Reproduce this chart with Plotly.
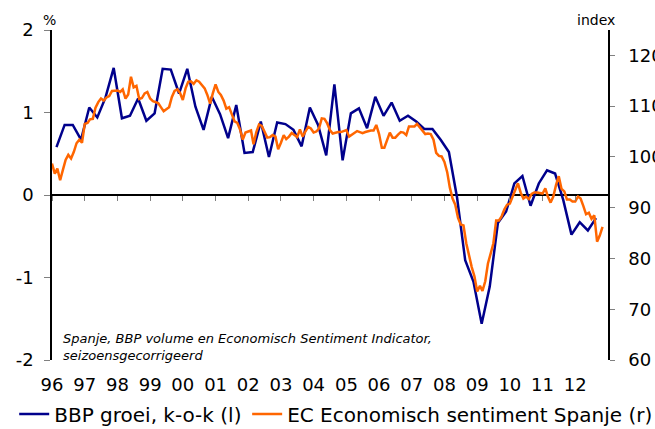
import pandas as pd
import plotly.graph_objects as go

FONT = "DejaVu Sans"
BLUE = "#00008C"
ORANGE = "#FF6600"
TICK_GREY = "#808080"

# BBP groei, kwartaal-op-kwartaal (%), 1996Q1 - 2012Q3
bbp_growth = [
    0.58, 0.85, 0.85, 0.67,
    1.06, 0.94, 1.18, 1.54,
    0.93, 0.96, 1.17, 0.90,
    0.99, 1.53, 1.52, 1.23,
    1.53, 1.07, 0.79, 1.19,
    0.98, 0.69, 1.09, 0.51,
    0.52, 0.89, 0.46, 0.88,
    0.86, 0.79, 0.59, 1.06,
    0.85, 0.48, 1.34, 0.42,
    0.99, 1.05, 0.81, 1.19,
    0.96, 1.12, 0.90, 0.96,
    0.89, 0.80, 0.80, 0.67,
    0.52, -0.03, -0.79, -1.05,
    -1.56, -1.11, -0.34, -0.20,
    0.14, 0.23, -0.13, 0.14,
    0.30, 0.26, -0.06, -0.48,
    -0.33, -0.43, -0.28,
]

# EC Economisch sentiment Spanje (index), maandelijks vanaf jan 1996
esi_spain = [
    98.7, 96.7, 97.7, 95.4, 97.4, 99.4, 100.4, 99.7, 101.0, 102.7, 103.4, 102.8,
    106.5, 106.7, 107.4, 107.5, 109.7, 110.8, 111.5, 111.1, 111.7, 112.0, 113.0, 113.1,
    113.1, 112.8, 113.3, 111.5, 112.3, 115.8, 113.7, 114.0, 111.4, 111.6, 112.5, 112.8,
    111.5, 111.0, 110.8, 110.6, 109.8, 109.0, 109.4, 109.8, 111.8, 113.0, 113.3, 112.6,
    111.2, 113.5, 114.8, 114.9, 114.4, 115.1, 114.8, 114.2, 113.5, 112.2, 110.5, 112.5,
    114.3, 112.8, 112.2, 111.1, 109.5, 109.8, 108.3, 107.0, 106.7, 105.4, 103.4, 104.8,
    105.0, 105.2, 102.5, 104.9, 106.4, 106.1, 105.0, 103.8, 103.9, 104.3, 104.0, 101.5,
    102.8, 104.3, 103.5, 104.0, 104.7, 104.3, 103.9, 105.4, 104.0, 105.0, 105.9, 105.6,
    104.8, 105.0, 105.6, 107.6, 107.5, 106.6, 105.3, 104.6, 104.8, 104.9, 104.9, 105.1,
    105.3, 104.0, 104.3, 104.8, 105.1, 104.9, 104.7, 104.9, 105.1, 105.2, 105.2, 106.3,
    104.5, 101.8, 101.8, 103.3, 104.8, 103.8, 103.8, 104.4, 104.9, 104.8, 104.3, 106.0,
    106.0, 106.0, 106.5, 105.8, 105.0, 104.5, 104.6, 104.5, 103.4, 100.8, 100.2, 100.1,
    99.0, 97.0, 94.0, 91.8, 90.6, 88.0, 86.7, 86.5, 83.0, 80.4, 78.3, 76.5,
    73.5, 74.6, 73.6, 75.5, 79.0, 81.0, 83.0, 87.5, 87.5, 88.3, 89.7, 90.6,
    90.8, 92.2, 93.4, 94.8, 93.0, 91.8, 92.2, 91.7, 92.7, 93.0, 93.0, 92.9,
    92.8, 93.8, 92.2, 91.0, 92.2, 94.5, 96.2, 93.7, 93.2, 91.6, 91.6, 91.2,
    91.2, 92.2, 91.8, 90.3, 88.7, 89.0, 87.8, 88.5, 83.3, 84.5, 86.2,
]

years = list(range(1996, 2013))
year_labels = [f"{y % 100:02d}" for y in years]
year_ticks = [f"{y}-01-01" for y in years]

left_ticks = [-2, -1, 0, 1, 2]
left_labels = [str(v) for v in left_ticks]  # plain hyphen like the original
right_ticks = [60, 70, 80, 90, 100, 110, 120]

quarter_dates = pd.date_range("1996-01-01", periods=len(bbp_growth), freq="QS") + pd.Timedelta(days=50)
month_dates = pd.date_range("1996-01-01", periods=len(esi_spain), freq="MS")

x_range = ["1996-01-01", "2013-01-01"]

fig = go.Figure()

fig.add_trace(go.Scatter(
    x=quarter_dates, y=bbp_growth, mode="lines",
    name="BBP groei, k-o-k (l)",
    line=dict(color=BLUE, width=2.5),
    legend="legend",
))
fig.add_trace(go.Scatter(
    x=month_dates, y=esi_spain, mode="lines",
    name="EC Economisch sentiment Spanje (r)",
    line=dict(color=ORANGE, width=2.5),
    yaxis="y2",
    legend="legend2",
))
# empty trace so the tick axis on the zero line gets drawn
fig.add_trace(go.Scatter(x=[], y=[], xaxis="x2", showlegend=False, hoverinfo="skip"))

legend_style = dict(
    orientation="h",
    xanchor="left",
    y=-0.164, yanchor="middle",
    font=dict(family=FONT, size=20),
    itemwidth=30,
    bgcolor="rgba(0,0,0,0)",
)

fig.update_layout(
    width=655,
    height=429,
    margin=dict(l=52, r=47, t=30, b=69, autoexpand=False),
    paper_bgcolor="white",
    plot_bgcolor="white",
    font=dict(family=FONT, size=18, color="black"),
    showlegend=True,
    legend=dict(x=-0.068, **legend_style),
    legend2=dict(x=0.351, **legend_style),
    xaxis=dict(
        type="date",
        range=x_range,
        tickmode="array",
        tickvals=year_ticks,
        ticktext=year_labels,
        ticks="outside",
        ticklen=8,
        tickcolor="rgba(0,0,0,0)",
        showline=False,
        showgrid=False,
        zeroline=False,
        tickfont=dict(size=18),
    ),
    xaxis2=dict(
        type="date",
        range=x_range,
        overlaying="x",
        anchor="free",
        position=0.5,
        tickmode="array",
        tickvals=year_ticks,
        ticks="outside",
        ticklen=5,
        tickwidth=1,
        tickcolor=TICK_GREY,
        showticklabels=False,
        showline=False,
        showgrid=False,
        zeroline=False,
    ),
    yaxis=dict(
        range=[-2, 2],
        tickmode="array",
        tickvals=left_ticks,
        ticktext=left_labels,
        ticks="outside",
        ticklen=6,
        tickcolor=TICK_GREY,
        ticklabelstandoff=7,
        showline=True,
        linecolor="black",
        linewidth=1.5,
        showgrid=False,
        zeroline=True,
        zerolinecolor="black",
        zerolinewidth=1.5,
        tickfont=dict(size=18),
    ),
    yaxis2=dict(
        range=[60, 125],
        overlaying="y",
        side="right",
        anchor="x",
        tickmode="array",
        tickvals=right_ticks,
        ticks="outside",
        ticklen=5,
        tickcolor=TICK_GREY,
        ticklabelstandoff=10,
        showline=True,
        linecolor="black",
        linewidth=1.5,
        showgrid=False,
        zeroline=False,
        tickfont=dict(size=18),
    ),
    annotations=[
        dict(text="%", xref="paper", yref="paper", x=-0.004, y=1.03,
             xanchor="center", yanchor="middle", showarrow=False,
             font=dict(family=FONT, size=14)),
        dict(text="index", xref="paper", yref="paper", x=0.979, y=1.03,
             xanchor="center", yanchor="middle", showarrow=False,
             font=dict(family=FONT, size=14)),
        dict(text="<i>Spanje, BBP volume en Economisch Sentiment Indicator,<br>seizoensgecorrigeerd</i>",
             xref="paper", yref="paper", x=0.016, y=0.038,
             xanchor="left", yanchor="middle", align="left", showarrow=False,
             font=dict(family=FONT, size=13)),
    ],
)

# the page's default body margin would shift the figure by 8px
fig.write_html(
    "out.html",
    config={"displayModeBar": False},
    post_script="document.body.style.margin = '0';",
)
